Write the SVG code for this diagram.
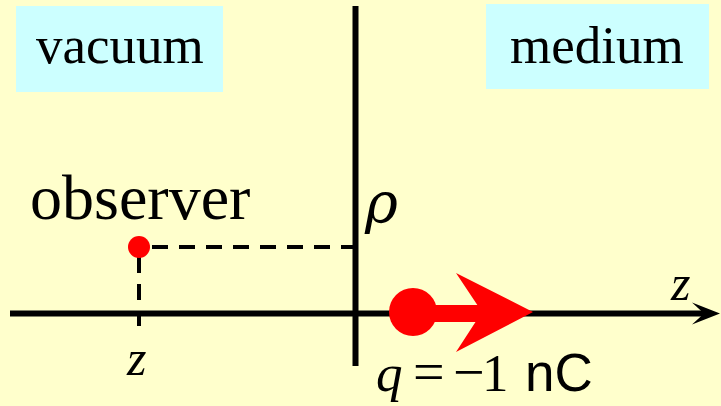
<svg xmlns="http://www.w3.org/2000/svg" width="721" height="406" viewBox="0 0 721 406">
  <style>
    .serif { font-family: "Liberation Serif", "Times New Roman", serif; fill: #000; }
    .sans { font-family: "Liberation Sans", Arial, sans-serif; fill: #000; }
    .it { font-style: italic; }
    .box { fill: #CCFFFF; }
    .axis { stroke: #000; stroke-width: 6; fill: none; }
    .dash { stroke: #000; stroke-width: 4; stroke-dasharray: 16 11; fill: none; }
    .red { fill: #FF0000; }
  </style>
  <rect x="0" y="0" width="721" height="406" fill="#FFFFCC"/>

  <g id="vacuum">
    <rect class="box" x="16" y="6" width="207" height="86"/>
    <text class="serif" x="36" y="63" font-size="53">vacuum</text>
  </g>
  <g id="medium">
    <rect class="box" x="486" y="4" width="223" height="85"/>
    <text class="serif" x="510" y="63" font-size="53">medium</text>
  </g>

  <g id="connectors">
    <line class="axis" x1="355.5" y1="6" x2="355.5" y2="366" stroke-width="5"/>
    <line class="axis" x1="10" y1="313.5" x2="706" y2="313.5"/>
    <polygon points="720,313.5 692,302.5 704,313.5 692,324.5" fill="#000"/>
    <line class="dash" x1="152" y1="247" x2="367" y2="247"/>
    <line class="dash" x1="139" y1="257" x2="139" y2="326"/>
  </g>

  <g id="observer">
    <circle class="red" cx="139" cy="247" r="11"/>
    <text class="serif" x="30" y="219" font-size="64">observer</text>
  </g>

  <g id="rho-label">
    <text x="365" y="222" font-size="56" font-style="italic" font-family="'DejaVu Serif', serif">ρ</text>
  </g>

  <g id="z-axis-label">
    <text class="serif it" x="671" y="300" font-size="50">z</text>
  </g>
  <g id="z-label">
    <text class="serif it" x="127" y="375" font-size="50">z</text>
  </g>

  <g id="charge">
    <rect class="red" x="413" y="305" width="72" height="17"/>
    <circle class="red" cx="413" cy="312" r="24"/>
    <polygon class="red" points="533,312 456,273 482,312 456,352"/>
    <text y="391" font-size="53"><tspan class="serif it" x="376">q</tspan><tspan class="serif" x="413" font-size="56">=</tspan><tspan class="serif" x="453" font-size="56">−</tspan><tspan class="serif" x="482">1</tspan><tspan class="sans" x="525">nC</tspan></text>
  </g>
</svg>
